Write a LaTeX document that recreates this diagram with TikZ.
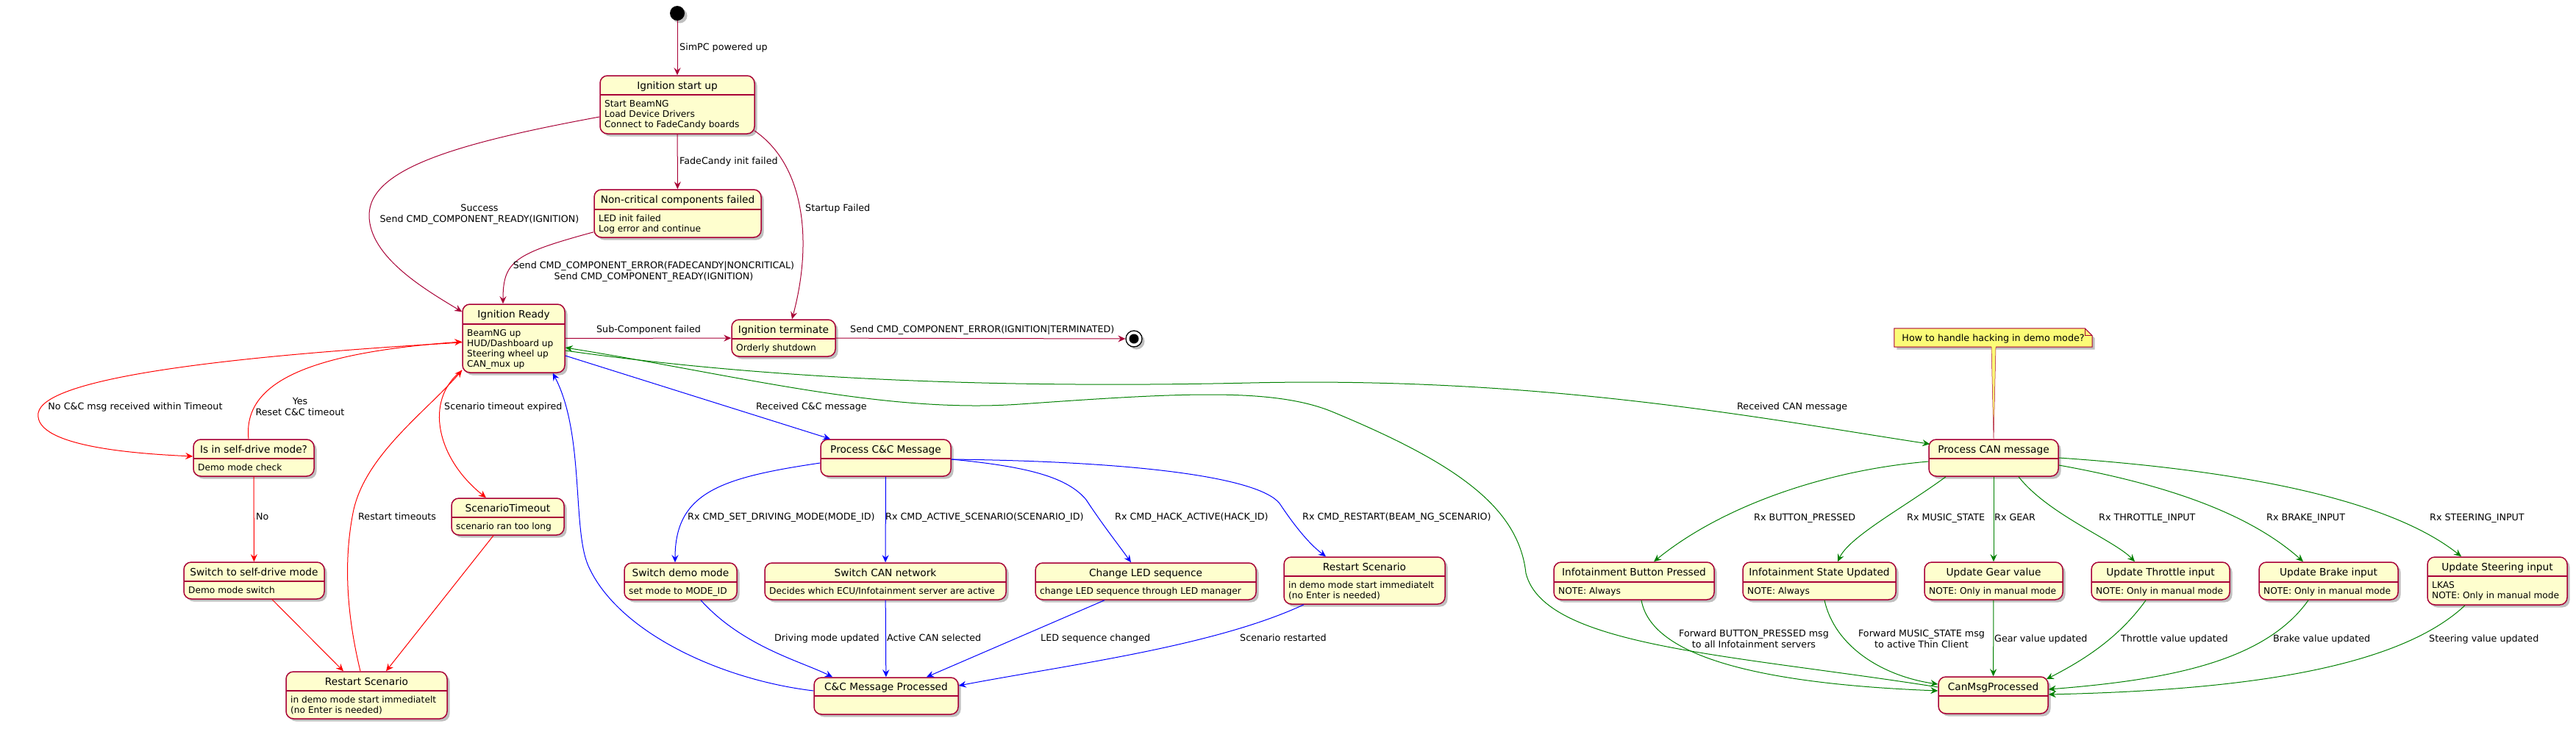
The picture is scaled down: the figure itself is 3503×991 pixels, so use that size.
\documentclass[tikz,border=0pt]{standalone}
\usepackage{fontspec}
\setmainfont{DejaVu Sans}
\usetikzlibrary{arrows.meta,fit,shadows,calc}
\definecolor{cr}{HTML}{A80036}
\definecolor{stfill}{HTML}{FEFECE}
\definecolor{notefill}{HTML}{FBFB77}
\definecolor{gr}{HTML}{008000}
\newcommand\ttlfont{\fontsize{13.7}{16}\selectfont}
\newcommand\bdyfont{\fontsize{12.2}{14}\selectfont}
\newcommand\lblfont{\fontsize{12.7}{15}\selectfont}
\tikzset{
 shd/.style={drop shadow={shadow xshift=3.5pt,shadow yshift=-3.5pt,opacity=0.25,fill=black}},
 stbox/.style={draw=cr, fill=stfill, line width=1.5pt, rounded corners=10pt, inner sep=0pt, shd},
 sepl/.style={draw=cr, line width=1.5pt},
 sttl/.style={font=\ttlfont, anchor=base, inner sep=0pt},
 sbdy/.style={font=\bdyfont, anchor=north west, inner sep=0pt, align=left},
 lbl/.style={font=\lblfont, inner sep=0pt, anchor=base west},
 lblc/.style={font=\lblfont, inner sep=0pt, align=center},
 etip/.style={-{Stealth[length=10pt,width=9pt,inset=3.5pt]}},
 ecr/.style={etip, color=cr, line width=1pt},
 ered/.style={etip, color=red, line width=1pt},
 eblue/.style={etip, color=blue, line width=1pt},
 egreen/.style={etip, color=gr, line width=1pt},
}
\newcommand\stnode[8]{%
  \node[stbox, fit={(#2,#3)(#4,#5)}] (#1) {};
  \draw[sepl] (#2,#6) -- (#4,#6);
  \node[sttl] (#1-t) at ({(#2+#4)/2},{(#3+#6)/2+5}) {#7};
  \node[sbdy] (#1-b) at (#2+6,#6+6.2) {\strut #8};
}
\begin{document}
\begin{tikzpicture}[x=1pt,y=-1pt]
\fill[white] (0,0) rectangle (3503,991);
\useasboundingbox (0,0) rectangle (3503,991);

% states
\node[circle, fill=black, minimum size=20pt, inner sep=0pt, shd] (start) at (921,18) {};
\stnode{startup}{816}{103}{1026}{182}{129}{Ignition start up}{Start BeamNG\\Load Device Drivers\\Connect to FadeCandy boards}
\stnode{noncrit}{808}{258}{1035}{323}{285}{Non-critical components failed}{LED init failed\\Log error and continue}
\stnode{ready}{629}{414}{768}{507}{441}{Ignition Ready}{BeamNG up\\HUD/Dashboard up\\Steering wheel up\\CAN\_mux up}
\stnode{term}{995}{435}{1136}{485}{461}{Ignition terminate}{Orderly shutdown}
\node[circle, draw=black, line width=1.3pt, fill=white, minimum size=22pt, inner sep=0pt, shd] (stop) at (1542,461) {};
\node[circle, fill=black, minimum size=13pt, inner sep=0pt] (stopin) at (stop.center) {};
\stnode{selfq}{263}{598}{427}{648}{624}{Is in self-drive mode?}{Demo mode check}
\stnode{selfsw}{250}{765}{441}{815}{791}{Switch to self-drive mode}{Demo mode switch}
\stnode{scto}{614}{678}{767}{728}{704}{ScenarioTimeout}{scenario ran too long}
\stnode{restartL}{389}{914}{608}{978}{940}{Restart Scenario}{in demo mode start immediatelt\\(no Enter is needed)}
\stnode{proccc}{1116}{598}{1293}{648}{624}{Process C\&C Message}{}
\stnode{demo}{849}{766}{1002}{816}{792}{Switch demo mode}{set mode to MODE\_ID}
\stnode{can}{1040}{766}{1368}{816}{792}{Switch CAN network}{Decides which ECU/Infotainment server are active}
\stnode{led}{1408}{766}{1708}{816}{792}{Change LED sequence}{change LED sequence through LED manager}
\stnode{restartR}{1746}{758}{1965}{822}{784}{Restart Scenario}{in demo mode start immediatelt\\(no Enter is needed)}
\stnode{ccdone}{1107}{922}{1303}{972}{947}{C\&C Message Processed}{}
\stnode{proccan}{2623}{598}{2799}{648}{624}{Process CAN message}{}
\stnode{btn}{2113}{765}{2331}{816}{792}{Infotainment Button Pressed}{NOTE: Always}
\stnode{music}{2370}{765}{2578}{816}{792}{Infotainment State Updated}{NOTE: Always}
\stnode{gear}{2617}{765}{2805}{816}{792}{Update Gear value}{NOTE: Only in manual mode}
\stnode{thr}{2844}{765}{3032}{816}{792}{Update Throttle input}{NOTE: Only in manual mode}
\stnode{brk}{3072}{765}{3261}{816}{792}{Update Brake input}{NOTE: Only in manual mode}
\stnode{steer}{3301}{758}{3491}{823}{784}{Update Steering input}{LKAS\\NOTE: Only in manual mode}
\stnode{canmsgdone}{2636}{921}{2785}{971}{947}{CanMsgProcessed}{}

% note
\node[inner sep=0pt, fit={(2576,447)(2845,472)}] (note) {};
\draw[cr, line width=1pt, fill=notefill, shd] (note.south west) -- (note.north west) -- ([xshift=-10pt]note.north east) -- ([yshift=-10pt]note.north east) -- (note.south east) -- cycle;
\draw[cr, line width=1pt] ([xshift=-10pt]note.north east) -- ([xshift=-10pt,yshift=-10pt]note.north east) -- ([yshift=-10pt]note.north east);
\fill[notefill] ([xshift=-2.5pt,yshift=1pt]note.south) -- ([xshift=3.5pt,yshift=1pt]note.south) -- (proccan.north) -- cycle;
\draw[cr, line width=0.5pt] ([xshift=-2.5pt]note.south) -- (proccan.north) -- ([xshift=3.5pt]note.south);
\node[font=\lblfont, inner sep=0pt] (note-t) at ([yshift=-1pt]note.center) {How to handle hacking in demo mode?};

% crimson edges
\draw[ecr] (start) -- (startup);
\draw[ecr] (startup) -- (noncrit);
\draw[ecr] ([yshift=-16.5pt]startup.west) .. controls (620,195) and (502,230) .. (502,293) .. controls (502,350) and (580,395) .. ([yshift=-11pt]ready.north west);
\draw[ecr] ([yshift=8pt]noncrit.south west) .. controls (700,345) and (684,355) .. ([xshift=-14.5pt]ready.north);
\draw[ecr] ([xshift=-1pt,yshift=5pt]startup.south east) .. controls (1095,225) and (1105,330) .. ([xshift=11.5pt]term.north);
\draw[ecr] (ready) -- (term);
\draw[ecr] (term) -- (stop);

% red edges
\draw[ered] ([yshift=-5.5pt]ready.west) .. controls (300,485) and (60,515) .. (52,562) .. controls (45,610) and (200,618) .. ([yshift=2pt]selfq.west);
\draw[ered] ([xshift=-7pt]selfq.north) .. controls (330,520) and (420,480) .. ([yshift=-4.5pt]ready.west);
\draw[ered] (selfq) -- (selfsw);
\draw[ered] ([xshift=24.5pt]selfsw.south) -- ([xshift=-31.5pt]restartL.north);
\draw[ered] ([xshift=-19.5pt]scto.south) -- ([xshift=26.5pt]restartL.north);
\draw[ered] ([xshift=-8.5pt]restartL.north) .. controls (470,830) and (468,760) .. (480,698) .. controls (495,620) and (580,560) .. ([yshift=4pt]ready.south west);
\draw[ered] ([yshift=4pt]ready.south west) .. controls (575,545) and (595,625) .. ([xshift=-29.5pt]scto.north);

% blue edges
\draw[eblue] ([yshift=-23.5pt]ready.east) -- ([xshift=-75.5pt]proccc.north);
\draw[eblue] ([yshift=7pt]ccdone.west) .. controls (980,925) and (840,860) .. (800,770) .. controls (778,720) and (795,590) .. ([xshift=-17pt]ready.south east);
\draw[eblue] ([yshift=-7pt]proccc.west) .. controls (980,650) and (918,670) .. ([xshift=-7.5pt]demo.north);
\draw[eblue] (proccc) -- (can);
\draw[eblue] ([yshift=-2pt]proccc.east) .. controls (1400,635) and (1452,650) .. (1477,680) .. controls (1500,715) and (1520,740) .. ([xshift=-20pt]led.north);
\draw[eblue] ([yshift=-2pt]proccc.east) .. controls (1550,628) and (1712,650) .. (1740,685) .. controls (1760,715) and (1780,740) .. ([xshift=-52.5pt]restartR.north);
\draw[eblue] ([xshift=27.5pt]demo.south) .. controls (1010,880) and (1090,900) .. ([xshift=-73pt]ccdone.north);
\draw[eblue] (can) -- (ccdone);
\draw[eblue] ([xshift=-56pt]led.south) -- ([xshift=55pt]ccdone.north);
\draw[eblue] ([xshift=-82.5pt]restartR.south) .. controls (1650,880) and (1450,905) .. ([yshift=14pt]ccdone.east);

% green edges
\draw[egreen] ([yshift=-16.5pt]ready.east) .. controls (1000,510) and (1300,530) .. (1700,521) .. controls (2100,512) and (2400,570) .. ([xshift=2pt,yshift=-7pt]proccan.north west);
\draw[egreen] ([yshift=11pt]canmsgdone.west) .. controls (2350,890) and (2100,880) .. (2075,780) .. controls (2065,690) and (1980,630) .. (1811,560) .. controls (1730,527) and (1600,535) .. (1387,550) .. controls (1200,563) and (1000,510) .. ([yshift=-12.5pt]ready.east);
\draw[egreen] ([yshift=-5pt]proccan.west) .. controls (2480,640) and (2340,690) .. ([xshift=27pt]btn.north);
\draw[egreen] ([xshift=-65pt]proccan.south) .. controls (2590,690) and (2515,730) .. ([xshift=25pt]music.north);
\draw[egreen] (proccan) -- (gear);
\draw[egreen] ([xshift=34pt]proccan.south) .. controls (2785,700) and (2875,735) .. ([xshift=-35pt]thr.north);
\draw[egreen] ([yshift=-10pt]proccan.east) .. controls (2950,660) and (3060,700) .. ([xshift=-34.5pt]brk.north);
\draw[egreen] (proccan.east) .. controls (3050,640) and (3250,680) .. ([xshift=-49pt]steer.north);
\draw[egreen] ([xshift=10pt]btn.south) .. controls (2245,890) and (2380,930) .. ([yshift=6pt]canmsgdone.west);
\draw[egreen] ([xshift=7pt]music.south) .. controls (2495,880) and (2560,920) .. ([yshift=15pt]canmsgdone.west);
\draw[egreen] (gear) -- (canmsgdone);
\draw[egreen] ([xshift=-20pt]thr.south) .. controls (2880,870) and (2830,900) .. ([xshift=-3pt,yshift=-4pt]canmsgdone.north east);
\draw[egreen] ([xshift=-27.5pt]brk.south) .. controls (3080,900) and (2950,925) .. ([yshift=8pt]canmsgdone.east);
\draw[egreen] ([xshift=-44pt]steer.south) .. controls (3250,920) and (3000,940) .. ([yshift=1pt]canmsgdone.east);

% labels
\node[lbl] (l1) at (924,68.5) {SimPC powered up};
\node[lbl] (l2) at (924,223.5) {FadeCandy init failed};
\node[lbl] (l3) at (1095,287.5) {Startup Failed};
\node[lblc] (l4) at (652,291.5) {Success\\Send CMD\_COMPONENT\_READY(IGNITION)};
\node[lblc] (l5) at (889,369.5) {Send CMD\_COMPONENT\_ERROR(FADECANDY|NONCRITICAL)\\Send CMD\_COMPONENT\_READY(IGNITION)};
\node[lbl, anchor=base] (l6) at (882,452.5) {Sub-Component failed};
\node[lbl] (l7) at (1156,452.5) {Send CMD\_COMPONENT\_ERROR(IGNITION|TERMINATED)};
\node[lbl, anchor=base] (l8) at (184,557.5) {No C\&C msg received within Timeout};
\node[lblc] (l9) at (408,553.5) {Yes\\Reset C\&C timeout};
\node[lbl] (l10) at (604,557.5) {Scenario timeout expired};
\node[lbl] (l11) at (348,707.5) {No};
\node[lbl] (l12) at (487,707.5) {Restart timeouts};
\node[lbl] (l13) at (1028,557.5) {Received C\&C message};
\node[lbl] (l14) at (935,707.5) {Rx CMD\_SET\_DRIVING\_MODE(MODE\_ID)};
\node[lbl] (l15) at (1204,707.5) {Rx CMD\_ACTIVE\_SCENARIO(SCENARIO\_ID)};
\node[lbl] (l16) at (1516,707.5) {Rx CMD\_HACK\_ACTIVE(HACK\_ID)};
\node[lbl] (l17) at (1771,707.5) {Rx CMD\_RESTART(BEAM\_NG\_SCENARIO)};
\node[lbl] (l18) at (1053,872.5) {Driving mode updated};
\node[lbl] (l19) at (1206,872.5) {Active CAN selected};
\node[lbl] (l20) at (1415,872.5) {LED sequence changed};
\node[lbl] (l21) at (1686,872.5) {Scenario restarted};
\node[lbl] (l22) at (2362,557.5) {Received CAN message};
\node[lbl] (l23) at (2385,708.5) {Rx BUTTON\_PRESSED};
\node[lbl] (l24) at (2593,708.5) {Rx MUSIC\_STATE};
\node[lbl] (l25) at (2712,708.5) {Rx GEAR};
\node[lbl] (l26) at (2854,708.5) {Rx THROTTLE\_INPUT};
\node[lbl] (l27) at (3082,708.5) {Rx BRAKE\_INPUT};
\node[lbl] (l28) at (3304,708.5) {Rx STEERING\_INPUT};
\node[lblc] (l29) at (2385,869.5) {Forward BUTTON\_PRESSED msg\\to all Infotainment servers};
\node[lblc] (l30) at (2613,869.5) {Forward MUSIC\_STATE msg\\to active Thin Client};
\node[lbl] (l31) at (2712,873.5) {Gear value updated};
\node[lbl] (l32) at (2884,873.5) {Throttle value updated};
\node[lbl] (l33) at (3091,873.5) {Brake value updated};
\node[lbl] (l34) at (3303,873.5) {Steering value updated};
\end{tikzpicture}
\end{document}
